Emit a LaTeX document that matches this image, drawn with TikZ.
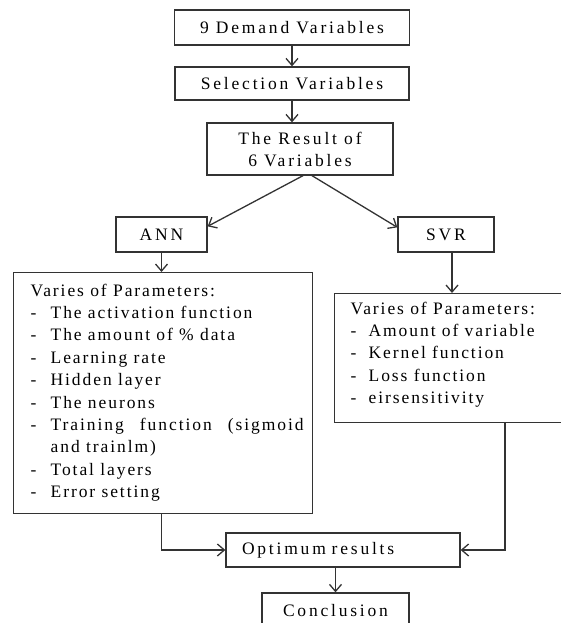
\documentclass[tikz,border=0pt]{standalone}
\usepackage{fontspec}
\setmainfont{Liberation Serif}[LetterSpace=11]
\usetikzlibrary{arrows.meta}

\begin{document}
\begin{tikzpicture}[x=1pt,y=-1pt,>={Straight Barb[length=7pt,width=12pt]},line width=1.3pt]

		\tikzstyle{every node}=[font=\fontsize{17.5}{22.4}\selectfont]
		\tikzstyle{box}=[draw=black!80, inner sep=0pt, align=center, font=\fontsize{17.5}{22}\selectfont\addfontfeature{LetterSpace=16}]
		\tikzstyle{bigbox}=[draw=black!80, inner sep=0pt, anchor=north west]
		\tikzstyle{list}=[inner sep=0pt, anchor=base west]

		\clip (0,0) rectangle (561,623);

		\node[box, minimum width=235pt, minimum height=35pt] (q_demand) at (292,27.5) {9 Demand Variables};
		\node[box, minimum width=234pt, minimum height=33pt] (q_select) at (292,83.5) {Selection Variables};
		\node[box, minimum width=186pt, minimum height=52pt] (q_result) at (300,149) {The Result of\\6 Variables};
		\node[box, minimum width=91pt, minimum height=35pt] (q_ann) at (161.5,234.5) {ANN};
		\node[box, minimum width=96pt, minimum height=35pt] (q_svr) at (446,234.5) {SVR};

		\node[bigbox, minimum width=299pt, minimum height=241pt] (q_annpar) at (13,272) {};
		\node[bigbox, minimum width=240pt, minimum height=129pt] (q_svrpar) at (334,293) {};

		\node[list] (ann_list) at (30,296) {\begin{tabular}[t]{@{}p{20pt}@{}l@{}}
			\multicolumn{2}{@{}l@{}}{Varies of Parameters:}\\
			- & The activation function\\
			- & The amount of \% data\\
			- & Learning rate\\
			- & Hidden layer\\
			- & The neurons\\
			- & \makebox[253pt][s]{Training function (sigmoid}\\
			  & and trainlm)\\
			- & Total layers\\
			- & Error setting
		\end{tabular}};
		\node[list] (svr_list) at (350,314) {\begin{tabular}[t]{@{}p{18pt}@{}l@{}}
			\multicolumn{2}{@{}l@{}}{Varies of Parameters:}\\
			- & Amount of variable\\
			- & Kernel function\\
			- & Loss function\\
			- & eirsensitivity
		\end{tabular}};

		\node[box, minimum width=234pt, minimum height=34pt, text width=202pt, align=left, inner xsep=16pt] (q_opt) at (343,550) {Optimum results};
		\node[box, minimum width=147pt, minimum height=36pt] (q_concl) at (335.5,611) {Conclusion};

		\coordinate (svr_out) at ([xshift=6pt]q_svr.south);
		\coordinate (svr_back) at ([xshift=171pt]q_svrpar.south west);

		\path[->, black!80] (q_demand) edge node {} (q_select)
					(q_select.south) edge node {} (q_select.south |- q_result.north)
					([xshift=3pt]q_result.south) edge node {} ([yshift=-10pt]q_ann.north east)
					([xshift=12pt]q_result.south) edge node {} ([yshift=-11pt]q_svr.north west)
					(q_ann.south) edge node {} (q_ann.south |- q_annpar.north)
					(svr_out) edge node {} (svr_out |- q_svrpar.north)
					(q_opt.south -| q_concl.north) edge node {} (q_concl.north);
		\draw[->, draw=black!80] (q_annpar.south -| q_ann) |- (q_opt.west);
		\draw[->, draw=black!80] (svr_back) |- (q_opt.east);
\end{tikzpicture}
\end{document}
